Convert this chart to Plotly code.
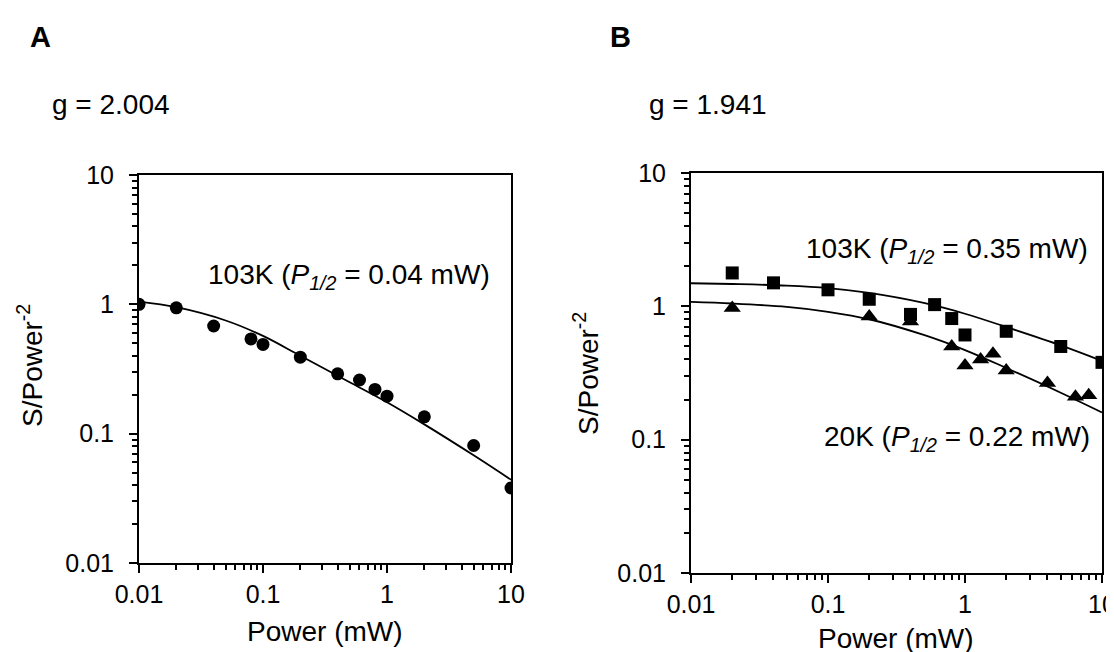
import plotly.graph_objects as go

W, H = 1114, 652
FONT = "Liberation Sans, Arial, sans-serif"

# panel A - g = 2.004, 103K
a_power = [0.01, 0.02, 0.04, 0.08, 0.1, 0.2, 0.4, 0.6, 0.8, 1, 2, 5, 10]
a_signal = [1.0, 0.94, 0.68, 0.54, 0.49, 0.39, 0.29, 0.26, 0.22, 0.195, 0.135, 0.081, 0.038]
a_fit_power = [0.01, 0.02, 0.05, 0.1, 0.2, 0.5, 1, 2, 5, 10]
a_fit_signal = [1.05, 0.95, 0.75, 0.57, 0.40, 0.25, 0.175, 0.118, 0.068, 0.044]

# panel B - g = 1.941, 103K squares and 20K triangles
b103_power = [0.02, 0.04, 0.1, 0.2, 0.4, 0.6, 0.8, 1, 2, 5, 10]
b103_signal = [1.78, 1.50, 1.33, 1.13, 0.87, 1.03, 0.81, 0.61, 0.65, 0.50, 0.38]
b20_power = [0.02, 0.2, 0.4, 0.8, 1, 1.3, 1.6, 2, 4, 6.4, 8]
b20_signal = [0.97, 0.84, 0.77, 0.50, 0.36, 0.40, 0.44, 0.33, 0.266, 0.21, 0.215]
b_fit_power = [0.01, 0.02, 0.05, 0.1, 0.2, 0.5, 1, 2, 5, 10]
b103_fit = [1.49, 1.47, 1.43, 1.37, 1.26, 1.06, 0.88, 0.70, 0.51, 0.39]
b20_fit = [1.08, 1.05, 0.99, 0.91, 0.80, 0.61, 0.47, 0.345, 0.225, 0.16]

major_ticks = [0.01, 0.1, 1, 10]
major_labels = ["0.01", "0.1", "1", "10"]
minor_ticks = [d * k for d in major_ticks[:-1] for k in range(2, 10)]


def px(x):
    return x / W


def py(y):
    return 1 - y / H


fig = go.Figure()

fig.add_trace(go.Scatter(x=a_fit_power, y=a_fit_signal, mode="lines", line=dict(color="black", width=1.8, shape="spline"), xaxis="x", yaxis="y"))
fig.add_trace(go.Scatter(x=a_power, y=a_signal, mode="markers", marker=dict(color="black", size=13, symbol="circle"), xaxis="x", yaxis="y"))

fig.add_trace(go.Scatter(x=b_fit_power, y=b103_fit, mode="lines", line=dict(color="black", width=1.8, shape="spline"), xaxis="x2", yaxis="y2"))
fig.add_trace(go.Scatter(x=b_fit_power, y=b20_fit, mode="lines", line=dict(color="black", width=1.8, shape="spline"), xaxis="x2", yaxis="y2"))
fig.add_trace(go.Scatter(x=b103_power, y=b103_signal, mode="markers", marker=dict(color="black", size=13, symbol="square"), xaxis="x2", yaxis="y2"))
fig.add_trace(go.Scatter(x=b20_power, y=b20_signal, mode="markers", marker=dict(color="black", size=15, symbol="triangle-up"), xaxis="x2", yaxis="y2"))

axis_style = dict(
    type="log",
    range=[-2, 1],
    automargin=False,
    showgrid=False,
    zeroline=False,
    showline=True,
    linecolor="black",
    linewidth=2,
    mirror=True,
    ticks="outside",
    ticklen=8,
    tickwidth=2,
    tickcolor="black",
    tickmode="array",
    tickvals=major_ticks,
    ticktext=major_labels,
    tickfont=dict(family=FONT, size=25, color="black"),
    minor=dict(tickmode="array", tickvals=minor_ticks, ticks="outside", ticklen=5, tickwidth=1.5, tickcolor="black", showgrid=False),
)
x_style = dict(axis_style, ticklabelstandoff=0)
y_style = dict(axis_style, ticklabelstandoff=10)

fig.update_layout(
    width=W,
    height=H,
    margin=dict(l=0, r=0, t=0, b=0),
    paper_bgcolor="white",
    plot_bgcolor="white",
    showlegend=False,
    font=dict(family=FONT, size=28, color="black"),
    xaxis=dict(x_style, domain=[px(131), px(503)], anchor="y"),
    yaxis=dict(y_style, domain=[py(555), py(167)], anchor="x"),
    xaxis2=dict(x_style, domain=[px(683), px(1094)], anchor="y2"),
    yaxis2=dict(y_style, domain=[py(565), py(165)], anchor="x2"),
)

notes = [
    ("<b>A</b>", 32, 29, "center", 0, 29),
    ("<b>B</b>", 612, 29, "center", 0, 29),
    ("g = 2.004", 42, 96, "left", 0, 28),
    ("g = 1.941", 639, 96, "left", 0, 28),
    ("103K (<i>P</i><sub><i>1/2</i></sub> = 0.04 mW)", 341, 268, "center", 0, 28),
    ("103K (<i>P</i><sub><i>1/2</i></sub> = 0.35 mW)", 939, 242, "center", 0, 28),
    ("20K (<i>P</i><sub><i>1/2</i></sub> = 0.22 mW)", 949, 430, "center", 0, 28),
    ("Power (mW)", 317, 623, "center", 0, 28),
    ("Power (mW)", 888, 630, "center", 0, 28),
    ("S/Power<sup>-2</sup>", 22, 358, "center", -90, 28),
    ("S/Power<sup>-2</sup>", 578, 365, "center", -90, 28),
]
for text, x, y, align, angle, size in notes:
    fig.add_annotation(
        text=text, x=px(x), y=py(y), xref="paper", yref="paper",
        xanchor=align, yanchor="middle", showarrow=False, textangle=angle,
        font=dict(family=FONT, size=size, color="black"),
    )

fig.write_html("out.html")
